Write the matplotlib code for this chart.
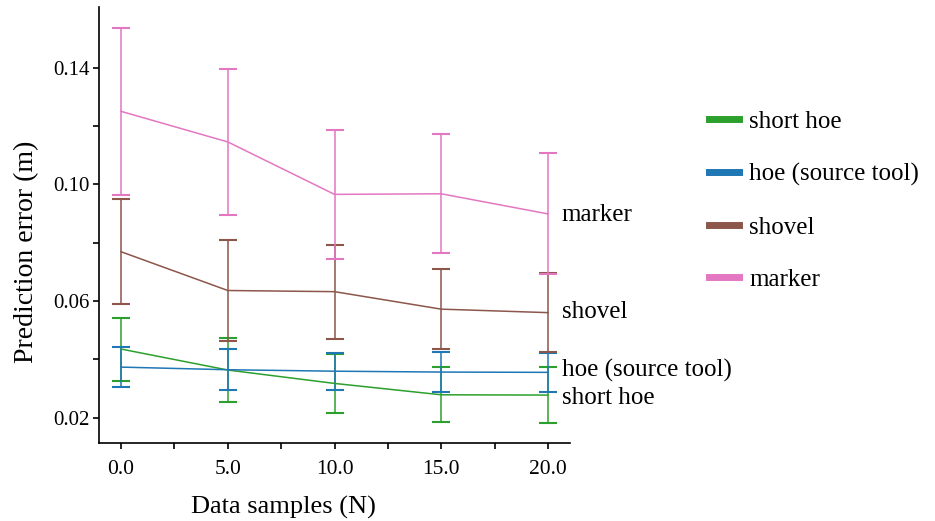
import numpy as np
import matplotlib
matplotlib.use('Agg')
import matplotlib.pyplot as plt

plt.rc('font', family=['Liberation Serif', 'DejaVu Serif'])

samples = [0.0, 5.0, 10.0, 15.0, 20.0]

tools = ['short hoe', 'hoe (source tool)', 'shovel', 'marker']
colors = ['#2ca02c', '#1f77b4', '#8c564b', '#e377c2']

short_hoe_mean = [0.0435, 0.0363, 0.0317, 0.0278, 0.0277]
short_hoe_std = [0.0108, 0.0111, 0.0100, 0.0095, 0.0097]
hoe_mean = [0.0373, 0.0364, 0.0359, 0.0356, 0.0355]
hoe_std = [0.0069, 0.0070, 0.0064, 0.0068, 0.0067]
shovel_mean = [0.0769, 0.0636, 0.0632, 0.0572, 0.0560]
shovel_std = [0.0180, 0.0172, 0.0161, 0.0138, 0.0136]
marker_mean = [0.1251, 0.1146, 0.0966, 0.0968, 0.0899]
marker_std = [0.0287, 0.0252, 0.0222, 0.0204, 0.0208]

means = [short_hoe_mean, hoe_mean, shovel_mean, marker_mean]
stds = [short_hoe_std, hoe_std, shovel_std, marker_std]
# vertical position of the name written at the end of each line
label_y = [0.0268, 0.0362, 0.0562, 0.0896]

fig = plt.figure(figsize=(9.35, 5.21), dpi=100)
ax = fig.add_axes([0.106, 0.150, 0.504, 0.837])

handles = []
for name, c, m, s, ly in zip(tools, colors, means, stds, label_y):
    ax.errorbar(samples, m, yerr=s, color=c, lw=1.1, elinewidth=1.1,
                capsize=6.5, capthick=1.5)
    h, = ax.plot([], [], color=c, lw=5, label=name)
    handles.append(h)
    ax.text(20.65, ly, name, fontsize=18, va='center', ha='left')

ax.set_xlim(-1.03, 21.05)
ax.set_ylim(0.0113, 0.161)

xt = np.arange(0, 20.1, 2.5)
ax.set_xticks(xt)
ax.set_xticklabels(['%.1f' % v if v % 5 == 0 else '' for v in xt], fontsize=15.5)
yt = np.arange(0.02, 0.141, 0.02)
ax.set_yticks(yt)
ax.set_yticklabels(['%.2f' % v if i % 2 == 0 else '' for i, v in enumerate(yt)],
                   fontsize=15)
ax.tick_params(length=4, width=1.2)
ax.tick_params(axis='x', pad=8)
ax.tick_params(axis='y', pad=3)

ax.spines['top'].set_visible(False)
ax.spines['right'].set_visible(False)
ax.spines['left'].set_linewidth(1.2)
ax.spines['bottom'].set_linewidth(1.2)

ax.set_xlabel('Data samples (N)', fontsize=19)
ax.set_ylabel('Prediction error (m)', fontsize=20)
ax.xaxis.set_label_coords(0.392, -0.122)
ax.yaxis.set_label_coords(-0.128, 0.438)

fig.legend(handles=handles, loc='upper left', bbox_to_anchor=(0.745, 0.812),
           frameon=False, fontsize=18, handlelength=1.2, handletextpad=0.4,
           labelspacing=1.2, borderpad=0)

fig.savefig('out.png', dpi=100)
